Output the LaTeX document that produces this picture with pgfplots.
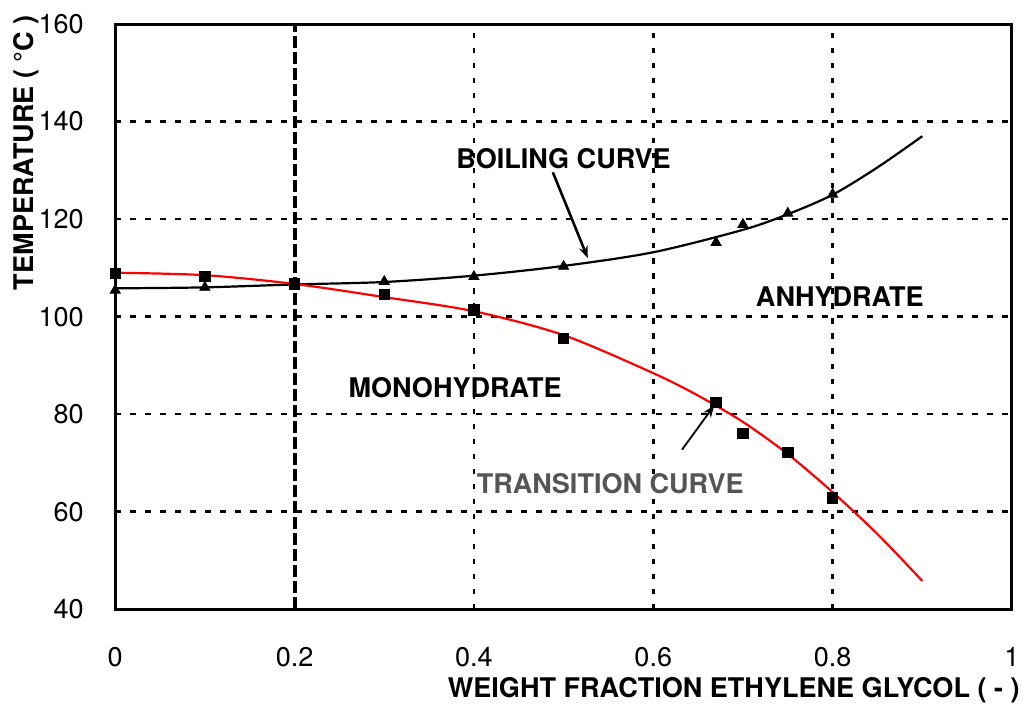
\documentclass[border=0pt]{standalone}
\usepackage{pgfplots}
\pgfplotsset{compat=1.18}
\usepackage{fontspec}
\setmainfont{TeX Gyre Heros}
\usetikzlibrary{arrows.meta}

\definecolor{labelgray}{HTML}{555555}

\begin{document}
\begin{tikzpicture}
\begin{axis}[
  scale only axis,
  width=447.5pt, height=292pt,
  xmin=0, xmax=1, ymin=40, ymax=160,
  xtick={0,0.4,0.6,0.8,1},
  xticklabels={0,0.4,0.6,0.8,1},
  extra x ticks={0.2},
  extra x tick labels={0.2},
  extra x tick style={xmajorgrids=false},
  ytick={40,60,...,160},
  major tick length=0pt,
  xmajorgrids, ymajorgrids,
  x grid style={black, line width=1.3pt, dash pattern=on 2.6pt off 4.9pt},
  y grid style={black, line width=1.3pt, dash pattern=on 3pt off 4.5pt},
  axis line style={line width=1.5pt},
  /pgf/number format/assume math mode=true,
  tick label style={font=\fontsize{13.5}{15}\selectfont},
  xticklabel style={anchor=base, inner sep=0pt, yshift=-28.5pt},
  yticklabel style={anchor=east, inner sep=0pt, xshift=-15.5pt},
  clip=false,
]

% heavy dashed line at w = 0.2
\draw[black, line width=2pt, dash pattern=on 6pt off 2pt]
  (axis cs:0.2,40) -- (axis cs:0.2,160);

% fitted curves
\addplot[black, line width=1.1pt, smooth, tension=0.5] coordinates {
  (0,105.8) (0.1,106.0) (0.2,106.6) (0.3,107.1) (0.4,108.4) (0.5,110.4)
  (0.6,113.2) (0.7,117.8) (0.75,121.0) (0.8,125.0) (0.85,130.6) (0.9,137.0)
};
\addplot[red, line width=1.1pt, smooth, tension=0.5] coordinates {
  (0,109.0) (0.1,108.5) (0.2,106.7) (0.3,104.0) (0.4,101.1) (0.5,96.2)
  (0.6,88.4) (0.65,83.8) (0.7,78.4) (0.75,71.8) (0.8,64.0) (0.85,55.4) (0.9,45.8)
};

% measured boiling points
\addplot[only marks, mark=triangle*, mark size=2.9pt, black] coordinates {
  (0,105.4) (0.1,106.0) (0.2,106.8) (0.3,107.2) (0.4,108.2) (0.5,110.3)
  (0.67,115.2) (0.7,118.9) (0.75,121.2) (0.8,125.1)
};
% measured transition points
\addplot[only marks, mark=square*, mark size=2.6pt, black] coordinates {
  (0,108.9) (0.1,108.2) (0.2,106.7) (0.3,104.5) (0.4,101.4) (0.5,95.5)
  (0.67,82.4) (0.7,76.0) (0.75,72.1) (0.8,62.8)
};

% region and curve labels
\node[font=\bfseries\fontsize{13.5}{15}\selectfont] at (axis cs:0.500,132.5) {BOILING CURVE};
\draw[black, line width=1.3pt, -{Stealth[length=6pt,width=4.5pt]}]
  (axis cs:0.488,129.6) -- (axis cs:0.527,112.0);
\node[font=\bfseries\fontsize{13.5}{15}\selectfont] at (axis cs:0.808,104.1) {ANHYDRATE};
\node[font=\bfseries\fontsize{13.5}{15}\selectfont] at (axis cs:0.379,85.4) {MONOHYDRATE};
\node[font=\bfseries\fontsize{13.5}{15}\selectfont, text=labelgray] at (axis cs:0.552,65.7) {TRANSITION CURVE};
\draw[black, line width=0.9pt, -{Stealth[length=6pt,width=4.5pt]}]
  (axis cs:0.632,72.7) -- (axis cs:0.668,81.8);
\end{axis}

% axis titles
\node[font=\bfseries\fontsize{13.5}{15}\selectfont, anchor=base east, inner sep=0pt]
  at ([xshift=4pt,yshift=-44pt]current axis.south east)
  {WEIGHT FRACTION ETHYLENE GLYCOL ( - )};
\node[font=\bfseries\fontsize{13.5}{15}\selectfont, rotate=90, anchor=base east, inner sep=0pt]
  at ([xshift=-41pt,yshift=4.5pt]current axis.north west)
  {TEMPERATURE ( °C )};

\pgfresetboundingbox
\useasboundingbox ([xshift=-57.5pt,yshift=-47pt]current axis.south west)
  rectangle ([xshift=5.5pt,yshift=12pt]current axis.north east);
\end{tikzpicture}
\end{document}
